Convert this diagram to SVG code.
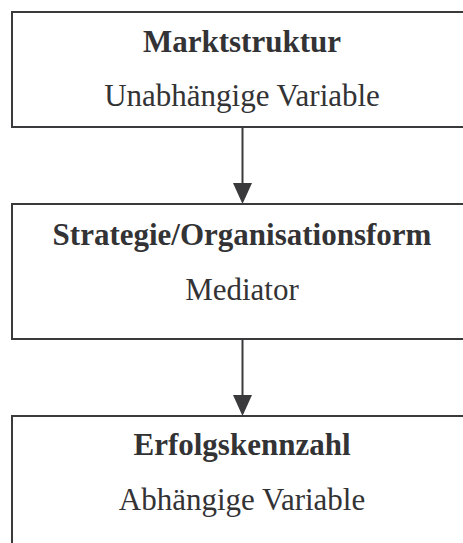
<svg xmlns="http://www.w3.org/2000/svg" width="463" height="543" viewBox="0 0 463 543">
  <style>
    .box { fill: #ffffff; stroke: #3a3a3c; stroke-width: 2; }
    .title { font-family: "Liberation Serif", "Times New Roman", serif; font-size: 31px; font-weight: bold; fill: #333335; text-anchor: middle; }
    .sub { font-family: "Liberation Serif", "Times New Roman", serif; font-size: 31px; fill: #333335; text-anchor: middle; }
    .edge { stroke: #3a3a3c; stroke-width: 2; fill: none; }
  </style>
  <defs>
    <marker id="arrow" markerWidth="10" markerHeight="11" refX="10" refY="5.5" orient="auto" markerUnits="userSpaceOnUse" viewBox="0 0 10 11">
      <path d="M0,0 L10,5.5 L0,11 Z" fill="#3a3a3c"/>
    </marker>
  </defs>
  <rect width="463" height="543" fill="#ffffff"/>

  <g id="connectors">
    <line class="edge" x1="242.5" y1="127" x2="242.5" y2="183"/>
    <path d="M233,183 L252,183 L242.5,204 Z" fill="#3a3a3c"/>
    <line class="edge" x1="242.5" y1="339" x2="242.5" y2="395"/>
    <path d="M233,395 L252,395 L242.5,416 Z" fill="#3a3a3c"/>
  </g>

  <g id="marktstruktur">
    <rect class="box" x="12" y="12" width="470" height="115"/>
    <text class="title" x="242" y="52">Marktstruktur</text>
    <text class="sub" x="242" y="106">Unabhängige Variable</text>
  </g>

  <g id="strategie">
    <rect class="box" x="12" y="204" width="470" height="135"/>
    <text class="title" x="242" y="245">Strategie/Organisationsform</text>
    <text class="sub" x="242" y="300">Mediator</text>
  </g>

  <g id="erfolgskennzahl">
    <rect class="box" x="12" y="416" width="470" height="140"/>
    <text class="title" x="242" y="455">Erfolgskennzahl</text>
    <text class="sub" x="242" y="510">Abhängige Variable</text>
  </g>
</svg>
